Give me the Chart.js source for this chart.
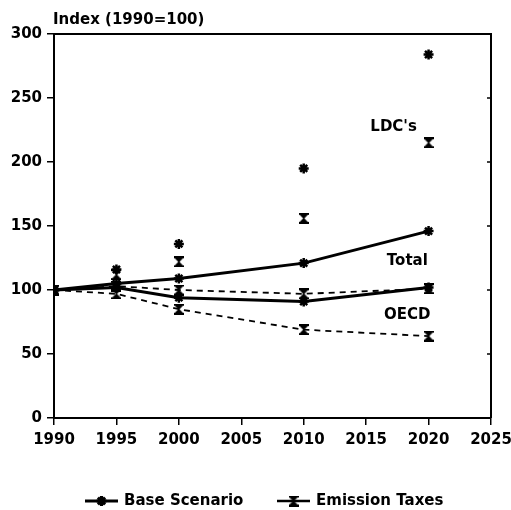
<!DOCTYPE html>
<html lang="en">
<head>
    <meta charset="UTF-8">
    <title>Index (1990=100)</title>
    <style>
        body { margin: 0; background: #fff; }
        #wrap { width: 511px; height: 510px; }
    </style>
</head>
<body>
    <div id="wrap">
        <canvas id="myChart" width="511" height="510"></canvas>
    </div>

    <script src="https://cdn.jsdelivr.net/npm/chart.js"></script>

    <script>
// data
const years = [1990, 1995, 2000, 2010, 2020];
const ldcBase = [100, 116, 136, 195, 284];
const ldcTax = [100, 112, 122, 156, 215];
const totalBase = [100, 105, 109, 121, 146];
const totalTax = [100, 103, 100, 97, 101];
const oecdBase = [100, 102, 94, 91, 102];
const oecdTax = [100, 97, 85, 69, 64];
const xTicks = [1990, 1995, 2000, 2005, 2010, 2015, 2020, 2025];
const yTicks = [0, 50, 100, 150, 200, 250, 300];
const regionLabels = [
    { text: "LDC's", x: 2017.2, y: 227 },
    { text: 'Total', x: 2018.3, y: 122.5 },
    { text: 'OECD', x: 2018.3, y: 80.5 }
];
const legendItems = ['Base Scenario', 'Emission Taxes'];

const FONT = 'bold 15px "DejaVu Sans", sans-serif';

// hourglass marker used for the emission taxes runs
function makeHourglass() {
    const c = document.createElement('canvas');
    c.width = 10; c.height = 11;
    const g = c.getContext('2d');
    g.fillStyle = '#000';
    g.fillRect(0, 0, 10, 2);
    g.fillRect(0, 9, 10, 2);
    g.beginPath();
    g.moveTo(1, 2); g.lineTo(9, 2); g.lineTo(5.6, 5.5); g.lineTo(9, 9); g.lineTo(1, 9); g.lineTo(4.4, 5.5);
    g.closePath();
    g.fill();
    return c;
}
const hourglass = makeHourglass();

function pts(arr) {
    return years.map((y, i) => ({ x: y, y: arr[i] }));
}

function baseSet(arr, line) {
    return {
        data: pts(arr),
        showLine: line,
        borderColor: '#000',
        backgroundColor: '#000',
        borderWidth: 3,
        pointStyle: 'star',
        pointRadius: 5,
        pointBorderWidth: 2.5,
        tension: 0
    };
}

function taxSet(arr, line) {
    return {
        data: pts(arr),
        showLine: line,
        borderColor: '#000',
        backgroundColor: '#000',
        borderWidth: 1.8,
        borderDash: [6, 5],
        pointStyle: hourglass,
        pointRadius: 5,
        tension: 0
    };
}

const extras = {
    id: 'extras',
    afterDraw(chart) {
        const ctx = chart.ctx;
        const a = chart.chartArea;
        const xs = chart.scales.x, ys = chart.scales.y;
        ctx.save();
        ctx.strokeStyle = '#000';
        ctx.lineWidth = 2;
        // top and right frame
        ctx.beginPath();
        ctx.moveTo(a.left, a.top);
        ctx.lineTo(a.right, a.top);
        ctx.lineTo(a.right, a.bottom);
        ctx.stroke();
        // small inward ticks on the right side
        ctx.lineWidth = 1.5;
        yTicks.forEach(v => {
            const py = ys.getPixelForValue(v);
            ctx.beginPath();
            ctx.moveTo(a.right, py);
            ctx.lineTo(a.right - 4, py);
            ctx.stroke();
        });

        ctx.fillStyle = '#000';
        ctx.font = FONT;
        ctx.textBaseline = 'middle';
        // axis title
        ctx.textAlign = 'left';
        ctx.fillText('Index (1990=100)', a.left - 1, 20);
        // region labels
        ctx.textAlign = 'center';
        regionLabels.forEach(l => {
            ctx.fillText(l.text, xs.getPixelForValue(l.x), ys.getPixelForValue(l.y));
        });

        // legend
        const ly = 501;
        const lx = [85, 277];
        const marks = ['star', hourglass];
        legendItems.forEach((t, i) => {
            ctx.lineWidth = i === 0 ? 3 : 2.5;
            ctx.beginPath();
            ctx.moveTo(lx[i], ly);
            ctx.lineTo(lx[i] + 33, ly);
            ctx.stroke();
            Chart.helpers.drawPoint(ctx, {
                pointStyle: marks[i], radius: 5, borderWidth: 2.5
            }, lx[i] + 16.5, ly);
            ctx.textAlign = 'left';
            ctx.fillText(t, lx[i] + 39, ly);
        });
        ctx.restore();
    }
};

const ctx = document.getElementById('myChart').getContext('2d');
const myChart = new Chart(ctx, {
    type: 'line',
    data: {
        datasets: [
            baseSet(ldcBase, false),
            taxSet(ldcTax, false),
            taxSet(totalTax, true),
            taxSet(oecdTax, true),
            baseSet(totalBase, true),
            baseSet(oecdBase, true)
        ]
    },
    options: {
        responsive: false,
        animation: false,
        layout: { padding: { top: 34, right: 0, left: 0, bottom: 0 } },
        plugins: {
            legend: { display: false },
            tooltip: { enabled: false }
        },
        scales: {
            x: {
                type: 'linear',
                min: 1990,
                max: 2025,
                afterFit: s => { s.height = 92; s.paddingRight = 20; s.paddingLeft = 0; },
                afterBuildTicks: s => { s.ticks = xTicks.map(v => ({ value: v })); },
                border: { display: true, color: '#000', width: 2 },
                grid: { display: true, drawOnChartArea: false, drawTicks: true, tickLength: 7, color: '#000', lineWidth: 1.5 },
                ticks: {
                    color: '#000',
                    padding: 6,
                    maxRotation: 0,
                    font: { family: '"DejaVu Sans", sans-serif', size: 15, weight: 'bold' },
                    callback: v => String(v)
                }
            },
            y: {
                min: 0,
                max: 300,
                afterFit: s => { s.width = 54; s.paddingTop = 0; s.paddingBottom = 0; },
                afterBuildTicks: s => { s.ticks = yTicks.map(v => ({ value: v })); },
                border: { display: true, color: '#000', width: 2 },
                grid: { display: true, drawOnChartArea: false, drawTicks: true, tickLength: 7, color: '#000', lineWidth: 1.5 },
                ticks: {
                    color: '#000',
                    padding: 5,
                    font: { family: '"DejaVu Sans", sans-serif', size: 15, weight: 'bold' }
                }
            }
        }
    },
    plugins: [extras]
});
    </script>
</body>
</html>
